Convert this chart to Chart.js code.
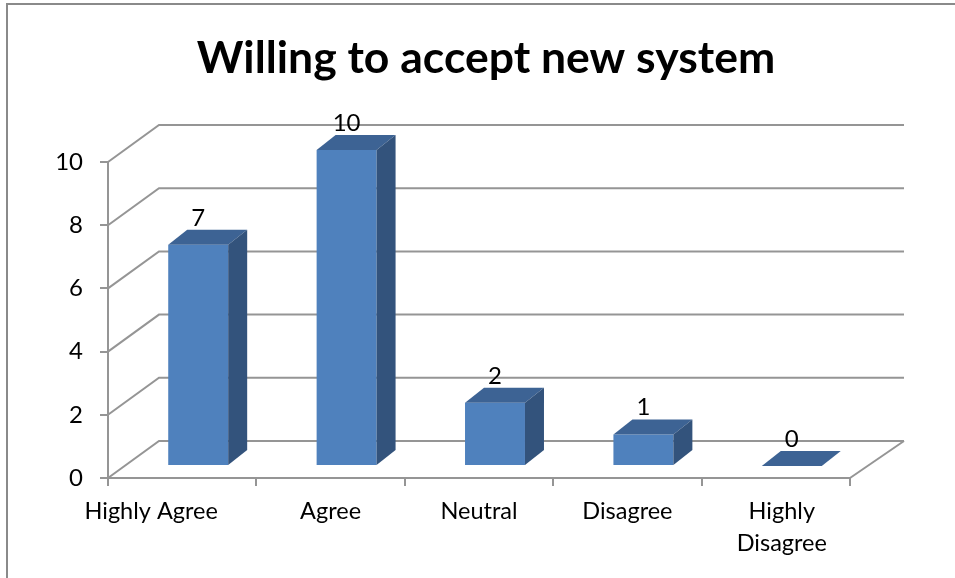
<!DOCTYPE html>
<html>
<head>
<meta charset="utf-8">
<script src="https://cdn.jsdelivr.net/npm/chart.js@4.4.1/dist/chart.umd.min.js"></script>
<style>
  html, body { margin: 0; padding: 0; background: #fff; }
  #wrap { width: 955px; height: 578px; }
</style>
</head>
<body>
<div id="wrap"><canvas id="acceptChart" width="955" height="578"></canvas></div>
<script>
var categories = ["Highly Agree", "Agree", "Neutral", "Disagree", ["Highly", "Disagree"]];
var responses = [7, 10, 2, 1, 0];
var yTicks = [0, 2, 4, 6, 8, 10];
var chartTitle = "Willing to accept new system";

var FONT = "Lato, 'Open Sans', sans-serif";
var GRID = '#959595';

// wall depth (front plane -> back wall) and bar position inside it
var wallDX = 51, wallDY = -37;
var barDX = 16, barDY = -12;
var sideDX = 19, sideDY = -15;

var threeD = {
    id: 'threeD',
    beforeDraw: function(chart) {
        var ctx = chart.ctx;
        ctx.save();
        ctx.fillStyle = '#fff';
        ctx.fillRect(0, 0, chart.width, chart.height);
        // outer frame
        ctx.strokeStyle = '#8a8a8a';
        ctx.lineWidth = 2;
        ctx.strokeRect(7, 4, chart.width + 20, chart.height + 20);
        // title
        ctx.fillStyle = '#000';
        ctx.font = 'bold 44.5px ' + FONT;
        ctx.textAlign = 'center';
        ctx.textBaseline = 'alphabetic';
        ctx.fillText(chartTitle, 486, 73);
        ctx.restore();
    },
    beforeDatasetsDraw: function(chart) {
        var ctx = chart.ctx;
        var a = chart.chartArea;
        var y = chart.scales.y;
        ctx.save();
        ctx.strokeStyle = GRID;
        ctx.lineWidth = 2;
        yTicks.forEach(function(v) {
            var py = y.getPixelForValue(v);
            ctx.beginPath();
            ctx.moveTo(a.left, py);
            ctx.lineTo(a.left + wallDX, py + wallDY);
            ctx.lineTo(a.right + wallDX + 3, py + wallDY);
            ctx.stroke();
        });
        // right edge of the floor
        var p0 = y.getPixelForValue(0);
        ctx.beginPath();
        ctx.moveTo(a.right, p0);
        ctx.lineTo(a.right + wallDX + 3, p0 + wallDY);
        ctx.stroke();
        ctx.restore();

        ctx.save();
        ctx.translate(barDX, barDY);
    },
    afterDatasetsDraw: function(chart) {
        var ctx = chart.ctx;
        var meta = chart.getDatasetMeta(0);
        meta.data.forEach(function(bar, i) {
            var p = bar.getProps(['x', 'y', 'base', 'width'], true);
            var l = p.x - p.width / 2, r = p.x + p.width / 2;
            // top face
            ctx.fillStyle = '#3d6394';
            ctx.beginPath();
            ctx.moveTo(l, p.y);
            ctx.lineTo(r, p.y);
            ctx.lineTo(r + sideDX, p.y + sideDY);
            ctx.lineTo(l + sideDX, p.y + sideDY);
            ctx.closePath();
            ctx.fill();
            // side face
            if (p.base - p.y > 0.5) {
                ctx.fillStyle = '#33537c';
                ctx.beginPath();
                ctx.moveTo(r, p.y);
                ctx.lineTo(r + sideDX, p.y + sideDY);
                ctx.lineTo(r + sideDX, p.base + sideDY);
                ctx.lineTo(r, p.base);
                ctx.closePath();
                ctx.fill();
            }
            // value label
            ctx.fillStyle = '#000';
            ctx.font = '24px ' + FONT;
            ctx.textAlign = 'center';
            ctx.textBaseline = 'alphabetic';
            ctx.fillText(String(responses[i]), p.x, p.y - 19);
        });
        ctx.restore();
    },
    afterDraw: function(chart) {
        // category labels, placed from the x scale
        var ctx = chart.ctx;
        var x = chart.scales.x;
        ctx.save();
        ctx.fillStyle = '#000';
        ctx.font = '23.5px ' + FONT;
        ctx.textAlign = 'center';
        ctx.textBaseline = 'alphabetic';
        categories.forEach(function(lab, i) {
            var lines = Array.isArray(lab) ? lab : [lab];
            var px = x.getPixelForTick(i);
            if (i === 0) px -= 31; // first label sits further left in the original
            if (i === categories.length - 1) px += 6;
            lines.forEach(function(t, k) {
                ctx.fillText(t, px, 519 + k * 32);
            });
        });
        ctx.restore();
    }
};

var ctx = document.getElementById('acceptChart');
var acceptChart = new Chart(ctx, {
    type: 'bar',
    data: {
        labels: categories,
        datasets: [{
            label: 'Responses',
            data: responses,
            backgroundColor: '#4f81bd',
            borderWidth: 0,
            categoryPercentage: 1,
            barPercentage: 0.404,
            clip: false
        }]
    },
    options: {
        responsive: false,
        animation: false,
        layout: {
            padding: { left: 0, top: 162, right: 105, bottom: 0 }
        },
        plugins: {
            legend: { display: false },
            title: { display: false },
            tooltip: { enabled: false }
        },
        scales: {
            x: {
                afterFit: function(s) { s.height = 100; },
                grid: {
                    offset: true,
                    drawOnChartArea: false,
                    tickLength: 8,
                    color: GRID,
                    lineWidth: 2
                },
                border: { color: GRID, width: 2 },
                ticks: { display: false }
            },
            y: {
                min: 0,
                max: 10,
                afterFit: function(s) { s.width = 108; },
                grid: {
                    drawOnChartArea: false,
                    tickLength: 8,
                    color: GRID,
                    lineWidth: 2
                },
                border: { color: GRID, width: 2 },
                ticks: {
                    stepSize: 2,
                    color: '#000',
                    font: { family: FONT, size: 24 },
                    padding: 17
                }
            }
        }
    },
    plugins: [threeD]
});
</script>
</body>
</html>
